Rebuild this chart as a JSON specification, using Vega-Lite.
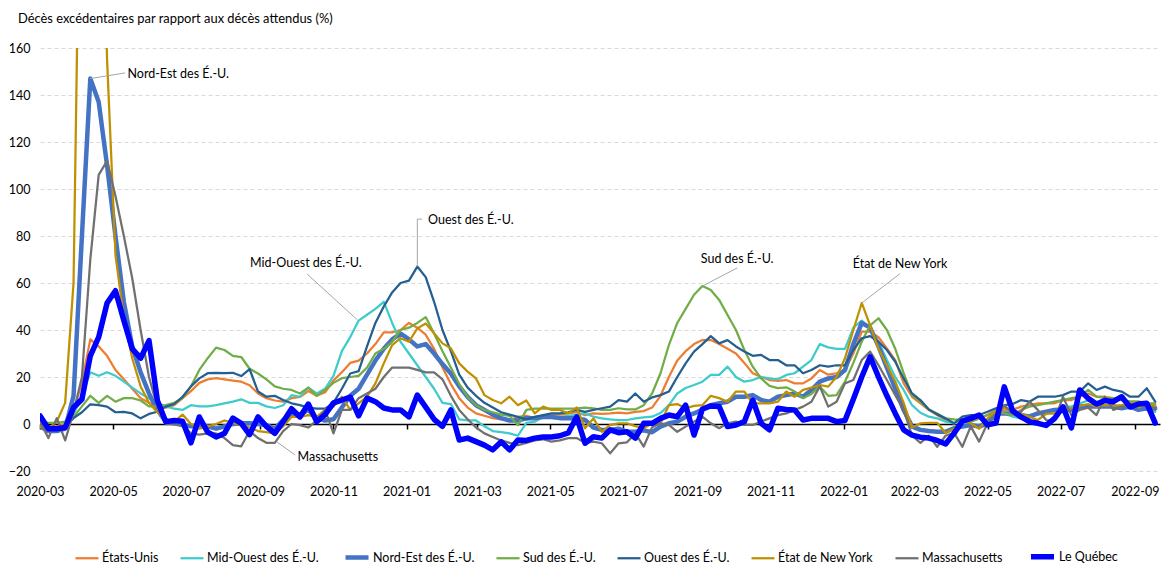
{
"$schema": "https://vega.github.io/schema/vega-lite/v6.json",
"width": 1120, "height": 423,
"autosize": {"type": "none"},
"padding": {"left": 40, "top": 48, "right": 8, "bottom": 94},
"background": "white",
"config": {
  "view": {"stroke": null},
  "font": "Lato",
  "axisX": {"offset": -47, "domainColor": "#000000", "domainWidth": 1.5, "tickColor": "#000000", "tickWidth": 1.5, "tickSize": 5, "labelPadding": 56, "labelFont": "Lato", "labelFontSize": 12.5, "labelColor": "#000000", "grid": false, "labelFlush": false, "labelOverlap": false, "title": null},
  "axisY": {"domain": false, "ticks": false, "gridDash": [4, 3], "gridColor": "#D9D9D9", "gridWidth": 1, "labelPadding": 10, "labelFont": "Lato", "labelFontSize": 12.5, "labelColor": "#000000", "title": null}
},
"title": {"text": "Décès excédentaires par rapport aux décès attendus (%)", "anchor": "start", "frame": "group", "dx": -22, "offset": 16, "font": "Lato", "fontSize": 12.9, "fontWeight": "normal", "color": "#000000"},
"datasets": {
"w": [
{"d":"2020-03-01","us":0,"mw":0,"ne":-1,"s":1,"w":0,"ny":-1,"ma":1,"qc":3.5},
{"d":"2020-03-08","us":-1,"mw":-1,"ne":-3,"s":0.5,"w":-1,"ny":-2,"ma":-6,"qc":-2},
{"d":"2020-03-15","us":-1,"mw":-2,"ne":-3,"s":0.5,"w":-2,"ny":1,"ma":2.5,"qc":-2},
{"d":"2020-03-22","us":0,"mw":-1,"ne":-2,"s":1,"w":-1,"ny":9,"ma":-7,"qc":-1.5},
{"d":"2020-03-29","us":5,"mw":4,"ne":12,"s":3,"w":2.5,"ny":60,"ma":5,"qc":7},
{"d":"2020-04-05","us":18,"mw":12,"ne":80,"s":7.5,"w":5,"ny":300,"ma":20,"qc":10.5},
{"d":"2020-04-12","us":36,"mw":22,"ne":147,"s":12,"w":8.4,"ny":330,"ma":70,"qc":29},
{"d":"2020-04-19","us":33,"mw":20.5,"ne":137,"s":9,"w":8,"ny":280,"ma":106,"qc":37},
{"d":"2020-04-26","us":29,"mw":22,"ne":110,"s":12,"w":7.4,"ny":155,"ma":112,"qc":51.5},
{"d":"2020-05-03","us":23,"mw":20.5,"ne":80,"s":9.5,"w":5,"ny":72,"ma":97,"qc":56.7},
{"d":"2020-05-10","us":19,"mw":18,"ne":52,"s":11,"w":5.2,"ny":45,"ma":80,"qc":44},
{"d":"2020-05-17","us":15,"mw":15.5,"ne":33,"s":11,"w":4.5,"ny":28,"ma":62,"qc":32},
{"d":"2020-05-24","us":11,"mw":13,"ne":22,"s":10,"w":2.4,"ny":16,"ma":40,"qc":28},
{"d":"2020-05-31","us":9,"mw":11,"ne":13,"s":7.5,"w":4.3,"ny":9,"ma":20,"qc":35.5},
{"d":"2020-06-07","us":7.5,"mw":9,"ne":6,"s":7.5,"w":5.2,"ny":5,"ma":7,"qc":10},
{"d":"2020-06-14","us":7,"mw":7.5,"ne":1,"s":8,"w":7.4,"ny":2,"ma":0,"qc":1},
{"d":"2020-06-21","us":8,"mw":6.5,"ne":0.3,"s":9,"w":8.5,"ny":1,"ma":0,"qc":1.5},
{"d":"2020-06-28","us":11,"mw":6,"ne":-0.4,"s":11,"w":11.6,"ny":4,"ma":0,"qc":1.2},
{"d":"2020-07-05","us":14,"mw":8,"ne":-1,"s":16,"w":16,"ny":0,"ma":-4,"qc":-8},
{"d":"2020-07-12","us":17.5,"mw":7.5,"ne":-0.4,"s":23,"w":19.4,"ny":-2,"ma":-4.5,"qc":3},
{"d":"2020-07-19","us":19,"mw":7.5,"ne":-1,"s":28,"w":21.6,"ny":-1,"ma":-4,"qc":-3.5},
{"d":"2020-07-26","us":19.5,"mw":8,"ne":-2,"s":32.5,"w":21.8,"ny":0,"ma":-4,"qc":-5.5},
{"d":"2020-08-02","us":19,"mw":8.8,"ne":-1,"s":31.5,"w":21.6,"ny":1.5,"ma":-6,"qc":-4},
{"d":"2020-08-09","us":18.5,"mw":9.5,"ne":0,"s":29,"w":21.8,"ny":0.5,"ma":-9,"qc":2.5},
{"d":"2020-08-16","us":18,"mw":10.5,"ne":0.3,"s":28.5,"w":20.4,"ny":-0.5,"ma":-9.5,"qc":0.3},
{"d":"2020-08-23","us":16.5,"mw":9,"ne":0.3,"s":23.5,"w":23.3,"ny":-1.5,"ma":-3,"qc":-4.5},
{"d":"2020-08-30","us":13,"mw":9,"ne":0,"s":21.5,"w":13.8,"ny":-3,"ma":-6,"qc":3},
{"d":"2020-09-06","us":11,"mw":7.5,"ne":-0.4,"s":19,"w":11.6,"ny":-3.5,"ma":-8,"qc":-1},
{"d":"2020-09-13","us":10,"mw":6.8,"ne":-2,"s":16,"w":12,"ny":-4,"ma":-8,"qc":-4},
{"d":"2020-09-20","us":9.5,"mw":8,"ne":1.7,"s":15,"w":10.2,"ny":-1,"ma":-3,"qc":1},
{"d":"2020-09-27","us":11,"mw":12.3,"ne":4.5,"s":14.5,"w":8.8,"ny":3,"ma":0,"qc":6.5},
{"d":"2020-10-04","us":11.5,"mw":11.6,"ne":4,"s":13,"w":8,"ny":3,"ma":-0.5,"qc":3},
{"d":"2020-10-11","us":14,"mw":15.5,"ne":6,"s":15.5,"w":7,"ny":3.8,"ma":-1.5,"qc":8.5},
{"d":"2020-10-18","us":12,"mw":13,"ne":2.5,"s":12,"w":6.5,"ny":3,"ma":1.5,"qc":1},
{"d":"2020-10-25","us":13.5,"mw":15,"ne":1.5,"s":14.5,"w":6.5,"ny":6,"ma":6,"qc":4},
{"d":"2020-11-01","us":18.5,"mw":20.5,"ne":2,"s":17.5,"w":9,"ny":7.4,"ma":-4,"qc":9},
{"d":"2020-11-08","us":22,"mw":31,"ne":7,"s":19.5,"w":15,"ny":11.6,"ma":6,"qc":10.2},
{"d":"2020-11-15","us":26,"mw":37,"ne":12,"s":20,"w":21.5,"ny":6,"ma":6,"qc":11.5},
{"d":"2020-11-22","us":27,"mw":44,"ne":15,"s":20.5,"w":22.5,"ny":8.8,"ma":11,"qc":3.5},
{"d":"2020-11-29","us":30,"mw":46.5,"ne":21,"s":24,"w":33,"ny":11.6,"ma":13,"qc":11},
{"d":"2020-12-06","us":34,"mw":49,"ne":27,"s":30,"w":43,"ny":17.3,"ma":15,"qc":9.5},
{"d":"2020-12-13","us":39,"mw":52,"ne":32,"s":32,"w":50,"ny":25.8,"ma":20,"qc":6.8},
{"d":"2020-12-20","us":39,"mw":43,"ne":36,"s":35,"w":56,"ny":33.6,"ma":24,"qc":6},
{"d":"2020-12-27","us":40,"mw":35,"ne":38.5,"s":40,"w":60,"ny":36.5,"ma":24,"qc":6},
{"d":"2021-01-03","us":43,"mw":30,"ne":36,"s":41,"w":61,"ny":35,"ma":24,"qc":3},
{"d":"2021-01-10","us":41,"mw":25,"ne":33,"s":43,"w":67,"ny":40.7,"ma":23,"qc":12.3},
{"d":"2021-01-17","us":38,"mw":20,"ne":34,"s":45.5,"w":62.5,"ny":42.8,"ma":22,"qc":7.2},
{"d":"2021-01-24","us":32,"mw":15,"ne":30,"s":38.5,"w":52,"ny":38.6,"ma":22,"qc":2},
{"d":"2021-01-31","us":24,"mw":9,"ne":25.5,"s":31,"w":40,"ny":34.3,"ma":19,"qc":-1},
{"d":"2021-02-07","us":17,"mw":8.5,"ne":21.5,"s":24,"w":31,"ny":32.2,"ma":12,"qc":6},
{"d":"2021-02-14","us":11,"mw":2,"ne":16,"s":17,"w":21,"ny":25.8,"ma":6,"qc":-6.8},
{"d":"2021-02-21","us":7,"mw":1.5,"ne":11.5,"s":11.5,"w":15.5,"ny":22.3,"ma":2,"qc":-6},
{"d":"2021-02-28","us":4.5,"mw":1.5,"ne":8,"s":8,"w":12,"ny":19.4,"ma":-1.5,"qc":-7.5},
{"d":"2021-03-07","us":3.5,"mw":-1,"ne":6,"s":6,"w":9,"ny":12.3,"ma":-4,"qc":-9},
{"d":"2021-03-14","us":2.5,"mw":-3,"ne":4,"s":5,"w":7,"ny":10.2,"ma":-5.5,"qc":-11},
{"d":"2021-03-21","us":2,"mw":-3.5,"ne":2.5,"s":4,"w":5,"ny":8.8,"ma":-7,"qc":-7.6},
{"d":"2021-03-28","us":1.5,"mw":-4,"ne":1.5,"s":3.5,"w":4,"ny":11.6,"ma":-8,"qc":-11},
{"d":"2021-04-04","us":3,"mw":-5,"ne":1.5,"s":-0.5,"w":3,"ny":8,"ma":-9,"qc":-6.8},
{"d":"2021-04-11","us":3.5,"mw":0.5,"ne":2.5,"s":6,"w":2,"ny":10,"ma":-8,"qc":-7},
{"d":"2021-04-18","us":2.5,"mw":1,"ne":2.5,"s":6.5,"w":3,"ny":4.5,"ma":-7,"qc":-6},
{"d":"2021-04-25","us":3.5,"mw":3,"ne":3,"s":6.5,"w":3.8,"ny":7.4,"ma":-6.5,"qc":-5.5},
{"d":"2021-05-02","us":4,"mw":3.5,"ne":3,"s":6.5,"w":4.5,"ny":6,"ma":-7.5,"qc":-5.5},
{"d":"2021-05-09","us":4,"mw":3,"ne":2.5,"s":6.5,"w":4.5,"ny":6,"ma":-7,"qc":-5},
{"d":"2021-05-16","us":4.5,"mw":3.5,"ne":2.5,"s":6.5,"w":5,"ny":4.5,"ma":-6,"qc":-3.8},
{"d":"2021-05-23","us":5,"mw":4,"ne":2.5,"s":6.7,"w":6,"ny":7,"ma":-6,"qc":3},
{"d":"2021-05-30","us":3.8,"mw":4.5,"ne":1.7,"s":7,"w":5.2,"ny":-1.8,"ma":-8,"qc":-8.2},
{"d":"2021-06-06","us":4.5,"mw":3.1,"ne":-1.5,"s":6.7,"w":6,"ny":2.4,"ma":-7.5,"qc":-5.4},
{"d":"2021-06-13","us":4.3,"mw":2.4,"ne":-2.5,"s":6,"w":6.7,"ny":-3.3,"ma":-8.2,"qc":-6},
{"d":"2021-06-20","us":4.5,"mw":2,"ne":-2.5,"s":6,"w":7.4,"ny":-0.4,"ma":-12.5,"qc":-2.5},
{"d":"2021-06-27","us":4.8,"mw":1.7,"ne":-2,"s":6.7,"w":10.2,"ny":0.3,"ma":-8.2,"qc":-3.7},
{"d":"2021-07-04","us":4.5,"mw":1.7,"ne":-3.3,"s":6.2,"w":9.5,"ny":0.3,"ma":-7.8,"qc":-3.3},
{"d":"2021-07-11","us":5.2,"mw":2.4,"ne":-3.3,"s":6.2,"w":13,"ny":-0.9,"ma":-4,"qc":-6},
{"d":"2021-07-18","us":5.5,"mw":2.8,"ne":-2.7,"s":8,"w":9.5,"ny":-1.8,"ma":-9.6,"qc":0.3},
{"d":"2021-07-25","us":7,"mw":3.1,"ne":-3.5,"s":13,"w":11.3,"ny":0.3,"ma":-1.4,"qc":0.3},
{"d":"2021-08-01","us":12,"mw":4.7,"ne":-1.1,"s":21.6,"w":12.3,"ny":0.3,"ma":0.3,"qc":2.4},
{"d":"2021-08-08","us":20,"mw":8,"ne":0.3,"s":33.6,"w":13.8,"ny":8,"ma":-0.4,"qc":3.8},
{"d":"2021-08-15","us":27,"mw":13,"ne":1,"s":43,"w":20,"ny":8.5,"ma":-3.3,"qc":3.1},
{"d":"2021-08-22","us":31,"mw":15.3,"ne":3.1,"s":49,"w":25.8,"ny":6.7,"ma":-1.1,"qc":8},
{"d":"2021-08-29","us":34,"mw":16.6,"ne":4.5,"s":55,"w":30.8,"ny":7.7,"ma":1,"qc":-4.7},
{"d":"2021-09-05","us":35.7,"mw":18,"ne":6,"s":58.7,"w":34,"ny":8,"ma":3.1,"qc":6.4},
{"d":"2021-09-12","us":35.7,"mw":20.9,"ne":8,"s":57,"w":37.4,"ny":12,"ma":0.3,"qc":7.7},
{"d":"2021-09-19","us":34,"mw":20.9,"ne":8.8,"s":52.8,"w":34.3,"ny":11,"ma":-1.8,"qc":7.4},
{"d":"2021-09-26","us":32,"mw":24.4,"ne":9.5,"s":46.4,"w":35.7,"ny":9.5,"ma":0.3,"qc":-1.1},
{"d":"2021-10-03","us":30,"mw":20,"ne":11.6,"s":40,"w":33,"ny":13.8,"ma":1,"qc":-0.4},
{"d":"2021-10-10","us":26,"mw":18,"ne":11.6,"s":31.5,"w":30.8,"ny":13.8,"ma":-0.4,"qc":1},
{"d":"2021-10-17","us":21.6,"mw":18.7,"ne":12.3,"s":24.4,"w":29,"ny":8.8,"ma":-0.4,"qc":10.2},
{"d":"2021-10-24","us":20,"mw":20,"ne":10.2,"s":19.4,"w":29.4,"ny":8.8,"ma":1,"qc":0.3},
{"d":"2021-10-31","us":18.7,"mw":19.4,"ne":9.5,"s":16.2,"w":27.2,"ny":8.8,"ma":2.4,"qc":-2.5},
{"d":"2021-11-07","us":18.4,"mw":19,"ne":11.6,"s":15.3,"w":27.2,"ny":9.5,"ma":3.8,"qc":6.7},
{"d":"2021-11-14","us":18.7,"mw":20.9,"ne":12.3,"s":15.6,"w":25,"ny":13.8,"ma":4.5,"qc":6.2},
{"d":"2021-11-21","us":17.3,"mw":21.6,"ne":13,"s":13.8,"w":25,"ny":11.6,"ma":6,"qc":6},
{"d":"2021-11-28","us":17.3,"mw":24.4,"ne":11.6,"s":11,"w":21.6,"ny":14.5,"ma":7.4,"qc":1.7},
{"d":"2021-12-05","us":19.4,"mw":27.2,"ne":14.5,"s":12.8,"w":23,"ny":15.5,"ma":9.5,"qc":2.4},
{"d":"2021-12-12","us":23,"mw":34,"ne":18,"s":16,"w":25,"ny":16.6,"ma":16,"qc":2.4},
{"d":"2021-12-19","us":21,"mw":32.6,"ne":19.4,"s":12,"w":24.4,"ny":15.9,"ma":7.4,"qc":2.4},
{"d":"2021-12-26","us":21.6,"mw":32,"ne":20,"s":12.3,"w":25,"ny":20,"ma":9.5,"qc":1},
{"d":"2022-01-02","us":23,"mw":32,"ne":23,"s":18,"w":25,"ny":28,"ma":17.3,"qc":1.5},
{"d":"2022-01-09","us":30,"mw":41,"ne":34,"s":26,"w":31.5,"ny":40,"ma":18.7,"qc":10.5},
{"d":"2022-01-16","us":39.3,"mw":44,"ne":43,"s":35,"w":36.5,"ny":51.5,"ma":27.2,"qc":20},
{"d":"2022-01-23","us":39.3,"mw":40.7,"ne":41,"s":42,"w":37.4,"ny":42,"ma":30.8,"qc":28.6},
{"d":"2022-01-30","us":36.9,"mw":35,"ne":33,"s":45,"w":35,"ny":32,"ma":25,"qc":20},
{"d":"2022-02-06","us":32.2,"mw":27.2,"ne":24,"s":40,"w":31.5,"ny":25,"ma":18.7,"qc":12},
{"d":"2022-02-13","us":27.2,"mw":20,"ne":15,"s":32,"w":26.5,"ny":18,"ma":12.3,"qc":4.5},
{"d":"2022-02-20","us":17.3,"mw":14.5,"ne":6,"s":21.6,"w":19.4,"ny":9,"ma":6,"qc":-2.5},
{"d":"2022-02-27","us":11.6,"mw":8,"ne":-1,"s":12.3,"w":13,"ny":-1.5,"ma":-5,"qc":-4.7},
{"d":"2022-03-06","us":8.8,"mw":4.8,"ne":-2.5,"s":9.5,"w":10.2,"ny":0.3,"ma":-8,"qc":-5.6},
{"d":"2022-03-13","us":6,"mw":3.1,"ne":-3,"s":6.2,"w":6.2,"ny":0.5,"ma":-5,"qc":-6},
{"d":"2022-03-20","us":3.8,"mw":2.4,"ne":-3.3,"s":4.5,"w":4.1,"ny":0.5,"ma":-9.7,"qc":-7},
{"d":"2022-03-27","us":1.7,"mw":1,"ne":-3.3,"s":2.4,"w":2.4,"ny":-3.8,"ma":-5,"qc":-8.5},
{"d":"2022-04-03","us":0.3,"mw":0.3,"ne":-1.8,"s":2,"w":0.3,"ny":-2,"ma":-3.7,"qc":-4},
{"d":"2022-04-10","us":1.7,"mw":1,"ne":-1.1,"s":1.7,"w":3.1,"ny":1.5,"ma":-9.7,"qc":1.2},
{"d":"2022-04-17","us":1,"mw":-0.4,"ne":-0.4,"s":1,"w":3.8,"ny":0.3,"ma":-1,"qc":2.4},
{"d":"2022-04-24","us":2.4,"mw":-0.4,"ne":-1.1,"s":2.4,"w":3.8,"ny":-2,"ma":-7.5,"qc":3.8},
{"d":"2022-05-01","us":3.8,"mw":1,"ne":0.3,"s":3.8,"w":5.2,"ny":2.4,"ma":0.3,"qc":-0.4},
{"d":"2022-05-08","us":6,"mw":6,"ne":4.5,"s":5.2,"w":6.7,"ny":5.5,"ma":3.1,"qc":0.4},
{"d":"2022-05-15","us":6,"mw":4.5,"ne":4.5,"s":4.5,"w":8,"ny":7,"ma":8,"qc":15.8},
{"d":"2022-05-22","us":6,"mw":3.1,"ne":4.5,"s":3.8,"w":8.5,"ny":5.7,"ma":4.5,"qc":5.6},
{"d":"2022-05-29","us":7.4,"mw":2.4,"ne":3.8,"s":6,"w":10.2,"ny":4.5,"ma":5.2,"qc":3},
{"d":"2022-06-05","us":8,"mw":3.8,"ne":3.1,"s":7.4,"w":9.5,"ny":3.1,"ma":9.5,"qc":1},
{"d":"2022-06-12","us":8.8,"mw":4.5,"ne":4.5,"s":8,"w":11.6,"ny":1.7,"ma":6,"qc":0.3},
{"d":"2022-06-19","us":8.8,"mw":4.5,"ne":5.2,"s":8.8,"w":11.6,"ny":4.3,"ma":1.7,"qc":-0.6},
{"d":"2022-06-26","us":8.8,"mw":6,"ne":6,"s":9.5,"w":11.6,"ny":4.5,"ma":1.4,"qc":2.4},
{"d":"2022-07-03","us":10.2,"mw":7.4,"ne":6,"s":10.2,"w":12.3,"ny":6.2,"ma":11.6,"qc":7.3},
{"d":"2022-07-10","us":10.2,"mw":7.4,"ne":6,"s":11,"w":13.8,"ny":6.7,"ma":3.8,"qc":-1.7},
{"d":"2022-07-17","us":11.6,"mw":8.8,"ne":7.4,"s":11.6,"w":13.8,"ny":7.7,"ma":6,"qc":14.5},
{"d":"2022-07-24","us":13,"mw":10,"ne":7.4,"s":14.5,"w":17.3,"ny":8.5,"ma":7,"qc":10.9},
{"d":"2022-07-31","us":11.6,"mw":8.8,"ne":7.4,"s":11.6,"w":14.5,"ny":7.4,"ma":3.8,"qc":8.5},
{"d":"2022-08-07","us":11.6,"mw":8,"ne":7.4,"s":11,"w":15.9,"ny":8,"ma":11.6,"qc":10},
{"d":"2022-08-14","us":11,"mw":8,"ne":7.4,"s":11,"w":14.5,"ny":7.7,"ma":6,"qc":9.5},
{"d":"2022-08-21","us":10.2,"mw":7.4,"ne":6.7,"s":10.2,"w":13.8,"ny":8,"ma":7.4,"qc":11.6},
{"d":"2022-08-28","us":9.5,"mw":7.4,"ne":7.4,"s":9.5,"w":11.6,"ny":8.8,"ma":7.4,"qc":7.2},
{"d":"2022-09-04","us":9.5,"mw":6.7,"ne":6,"s":9.5,"w":11.6,"ny":7,"ma":8.8,"qc":8.5},
{"d":"2022-09-11","us":8.8,"mw":6,"ne":6.7,"s":8.8,"w":15.2,"ny":8.5,"ma":7.4,"qc":8.8},
{"d":"2022-09-18","us":8,"mw":5.2,"ne":6.7,"s":8.8,"w":9.5,"ny":7.7,"ma":6,"qc":0.4}
],
"series": [
{"k":"us","name":"États-Unis"},
{"k":"mw","name":"Mid-Ouest des É.-U."},
{"k":"ne","name":"Nord-Est des É.-U."},
{"k":"s","name":"Sud des É.-U."},
{"k":"w","name":"Ouest des É.-U."},
{"k":"ny","name":"État de New York"},
{"k":"ma","name":"Massachusetts"},
{"k":"qc","name":"Le Québec"}
],
"notes": [
{"d":"2020-05-13","v":148.9,"t":"Nord-Est des É.-U.","a":"l"},
{"d":"2020-10-09","v":68.5,"t":"Mid-Ouest des É.-U.","a":"c"},
{"d":"2021-01-19","v":86.8,"t":"Ouest des É.-U.","a":"l"},
{"d":"2021-10-04","v":70.2,"t":"Sud des É.-U.","a":"c"},
{"d":"2022-02-17","v":68.1,"t":"État de New York","a":"c"},
{"d":"2020-10-02","v":-14,"t":"Massachusetts","a":"l"}
],
"leaders": [
{"d1":"2020-04-12","v1":147,"d2":"2020-05-11","v2":149.4},
{"d1":"2020-11-21","v1":44.3,"d2":"2020-10-10","v2":63.8},
{"d1":"2021-01-10","v1":67,"d2":"2021-01-10","v2":87.2},
{"d1":"2021-01-10","v1":87.2,"d2":"2021-01-14","v2":87.2},
{"d1":"2021-09-05","v1":58.7,"d2":"2021-10-04","v2":66.4},
{"d1":"2022-01-16","v1":51.5,"d2":"2022-02-17","v2":64},
{"d1":"2020-09-15","v1":-7.7,"d2":"2020-09-30","v2":-13.2}
]
},
"layer": [
{
  "data": {"name": "w"},
  "transform": [
    {"fold": ["us","mw","ne","s","w","ny","ma","qc"], "as": ["k","v"]},
    {"lookup": "k", "from": {"data": {"name": "series"}, "key": "k", "fields": ["name"]}}
  ],
  "mark": {"type": "line", "clip": true, "strokeJoin": "round", "strokeCap": "round"},
  "encoding": {
    "x": {"field": "d", "type": "temporal", "title": null,
          "scale": {"type": "utc", "domain": [{"year":2020,"month":3,"date":1,"utc":true},{"year":2022,"month":9,"date":22,"utc":true}]},
          "axis": {"format": "%Y-%m", "tickCount": {"interval": "month", "step": 2}}},
    "y": {"field": "v", "type": "quantitative", "title": null,
          "scale": {"domain": [-20, 160], "nice": false, "zero": false},
          "axis": {"values": [-20,0,20,40,60,80,100,120,140,160]}},
    "color": {"field": "name", "type": "nominal",
      "scale": {"domain": ["États-Unis","Mid-Ouest des É.-U.","Nord-Est des É.-U.","Sud des É.-U.","Ouest des É.-U.","État de New York","Massachusetts","Le Québec"],
                "range": ["#ED7D31","#3DCBCB","#4472C4","#70AD47","#255E91","#BF9000","#707070","#0000FF"]},
      "legend": {"orient": "none", "legendX": 34, "legendY": 494, "direction": "horizontal", "title": null, "symbolType": "stroke", "symbolSize": 529, "labelFont": "Lato", "labelFontSize": 12.5, "labelColor": "#000000", "labelOffset": 2, "columnPadding": 17}},
    "strokeWidth": {"field": "name", "type": "nominal",
      "scale": {"type": "ordinal", "domain": ["États-Unis","Mid-Ouest des É.-U.","Nord-Est des É.-U.","Sud des É.-U.","Ouest des É.-U.","État de New York","Massachusetts","Le Québec"],
                "range": [2.25,2.25,4.5,2.25,2.25,2.25,2.25,5.5]},
      "legend": {"orient": "none", "legendX": 34, "legendY": 494, "direction": "horizontal", "title": null, "symbolType": "stroke", "symbolSize": 529, "labelFont": "Lato", "labelFontSize": 12.5, "labelColor": "#000000", "labelOffset": 2, "columnPadding": 17}}
  }
},
{
  "data": {"name": "leaders"},
  "mark": {"type": "rule", "color": "#A6A6A6", "strokeWidth": 1},
  "encoding": {
    "x": {"field": "d1", "type": "temporal", "title": null},
    "x2": {"field": "d2"},
    "y": {"field": "v1", "type": "quantitative", "title": null},
    "y2": {"field": "v2"}
  }
},
{
  "data": {"name": "notes"},
  "transform": [{"filter": "datum.a === 'l'"}],
  "mark": {"type": "text", "align": "left", "baseline": "middle", "font": "Lato", "fontSize": 12.5, "color": "#000000"},
  "encoding": {
    "x": {"field": "d", "type": "temporal", "title": null},
    "y": {"field": "v", "type": "quantitative", "title": null},
    "text": {"field": "t"}
  }
},
{
  "data": {"name": "notes"},
  "transform": [{"filter": "datum.a === 'c'"}],
  "mark": {"type": "text", "align": "center", "baseline": "middle", "font": "Lato", "fontSize": 12.5, "color": "#000000"},
  "encoding": {
    "x": {"field": "d", "type": "temporal", "title": null},
    "y": {"field": "v", "type": "quantitative", "title": null},
    "text": {"field": "t"}
  }
}
]
}
